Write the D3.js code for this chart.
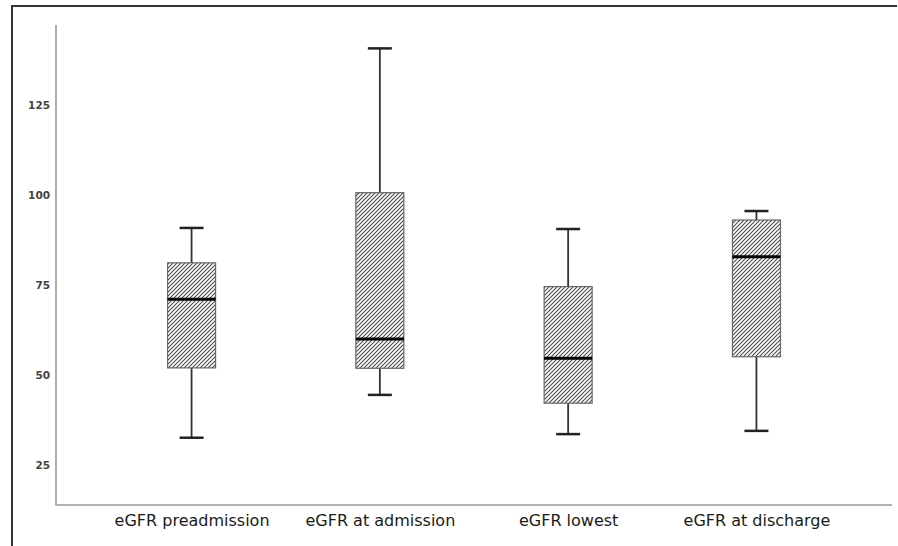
<!DOCTYPE html>
<html>
<head>
<meta charset="utf-8">
<script src="https://cdn.jsdelivr.net/npm/d3@7"></script>
<style>
  body { margin: 0; background: #fff; }
  svg { display: block; }
</style>
</head>
<body>
<div id="chart"></div>
<script>
// box plot values
var categories = ["eGFR preadmission", "eGFR at admission", "eGFR lowest", "eGFR at discharge"];
var whiskerLow  = [32.7, 44.6, 33.7, 34.6];
var q1          = [52.1, 52.0, 42.3, 55.2];
var median      = [71.2, 60.1, 54.8, 83.0];
var q3          = [81.3, 100.8, 74.7, 93.2];
var whiskerHigh = [91.0, 140.9, 90.7, 95.7];
var yTicks = [25, 50, 75, 100, 125];

var width = 898, height = 546;
var plotLeft = 56, plotRight = 892, plotTop = 25, plotBottom = 505;

var svg = d3.select("#chart").append("svg")
    .attr("width", width)
    .attr("height", height);

// hatch fill for the boxes
svg.append("defs").append("pattern")
    .attr("id", "hatch")
    .attr("patternUnits", "userSpaceOnUse")
    .attr("width", 4)
    .attr("height", 4)
  .append("path")
    .attr("d", "M-1,1 l2,-2 M0,4 l4,-4 M3,5 l2,-2")
    .attr("stroke", "#4a4a4a")
    .attr("stroke-width", 1.1);

// outer frame (top and left edges)
svg.append("path")
    .attr("d", "M12," + height + " L12,6 L897,6")
    .attr("fill", "none")
    .attr("stroke", "#333")
    .attr("stroke-width", 2);

var xScale = d3.scalePoint()
    .domain(categories)
    .range([plotLeft, plotRight])
    .padding(0.72);

var yScale = d3.scaleLinear()
    .domain([14, 147.4])
    .range([plotBottom, plotTop]);

// y axis
var yAxis = svg.append("g")
    .attr("transform", "translate(" + plotLeft + ",0)")
    .call(d3.axisLeft(yScale).tickValues(yTicks).tickSize(0).tickPadding(6));
yAxis.select(".domain").remove();
yAxis.selectAll("text")
    .attr("font-family", "DejaVu Sans, sans-serif")
    .attr("font-size", 10.5)
    .attr("font-weight", "bold")
    .attr("fill", "#444");

// x axis
var xAxis = svg.append("g")
    .attr("transform", "translate(0," + plotBottom + ")")
    .call(d3.axisBottom(xScale).tickSize(0).tickPadding(10));
xAxis.select(".domain").remove();
xAxis.selectAll("text")
    .attr("font-family", "DejaVu Sans, sans-serif")
    .attr("font-size", 16)
    .attr("fill", "#1a1a1a");

// axis lines
svg.append("path")
    .attr("d", "M" + plotLeft + "," + plotTop + " L" + plotLeft + "," + plotBottom + " L" + plotRight + "," + plotBottom)
    .attr("fill", "none")
    .attr("stroke", "#999")
    .attr("stroke-width", 1.6);

var boxW = 48, capW = 24;
var data = categories.map(function(c, i) {
    return { cat: c, lo: whiskerLow[i], q1: q1[i], med: median[i], q3: q3[i], hi: whiskerHigh[i] };
});

var g = svg.selectAll(".box")
    .data(data)
  .enter().append("g")
    .attr("class", "box");

// whiskers
g.append("line")
    .attr("x1", function(d) { return xScale(d.cat); })
    .attr("x2", function(d) { return xScale(d.cat); })
    .attr("y1", function(d) { return yScale(d.hi); })
    .attr("y2", function(d) { return yScale(d.q3); })
    .attr("stroke", "#333").attr("stroke-width", 1.8);
g.append("line")
    .attr("x1", function(d) { return xScale(d.cat); })
    .attr("x2", function(d) { return xScale(d.cat); })
    .attr("y1", function(d) { return yScale(d.q1); })
    .attr("y2", function(d) { return yScale(d.lo); })
    .attr("stroke", "#333").attr("stroke-width", 1.8);

// caps
["hi", "lo"].forEach(function(k) {
    g.append("line")
        .attr("x1", function(d) { return xScale(d.cat) - capW / 2; })
        .attr("x2", function(d) { return xScale(d.cat) + capW / 2; })
        .attr("y1", function(d) { return yScale(d[k]); })
        .attr("y2", function(d) { return yScale(d[k]); })
        .attr("stroke", "#222").attr("stroke-width", 2.5);
});

// boxes
g.append("rect")
    .attr("x", function(d) { return xScale(d.cat) - boxW / 2; })
    .attr("y", function(d) { return yScale(d.q3); })
    .attr("width", boxW)
    .attr("height", function(d) { return yScale(d.q1) - yScale(d.q3); })
    .attr("fill", "url(#hatch)")
    .attr("stroke", "#666")
    .attr("stroke-width", 1.2);

// medians
g.append("line")
    .attr("x1", function(d) { return xScale(d.cat) - boxW / 2; })
    .attr("x2", function(d) { return xScale(d.cat) + boxW / 2; })
    .attr("y1", function(d) { return yScale(d.med); })
    .attr("y2", function(d) { return yScale(d.med); })
    .attr("stroke", "#000").attr("stroke-width", 3);
</script>
</body>
</html>
